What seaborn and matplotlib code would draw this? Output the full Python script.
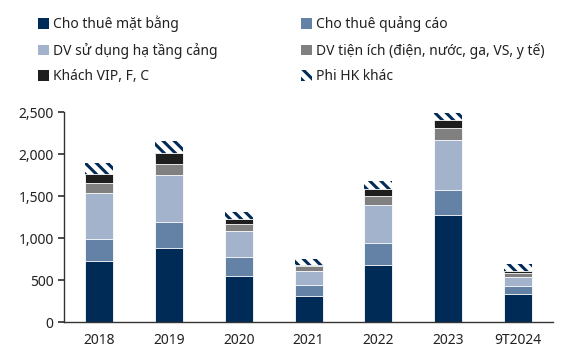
import matplotlib
matplotlib.use("Agg")
import matplotlib.pyplot as plt
import matplotlib.ticker as mticker
from matplotlib.patches import Patch
import seaborn as sns
import numpy as np
import pandas as pd

years = ["2018", "2019", "2020", "2021", "2022", "2023", "9T2024"]
series_names = ["Cho thuê mặt bằng", "Cho thuê quảng cáo", "DV sử dụng hạ tầng cảng",
                "DV tiện ích (điện, nước, ga, VS, y tế)", "Khách VIP, F, C", "Phi HK khác"]
mat_bang = [733, 881, 543, 305, 674, 1269, 340]
quang_cao = [262, 305, 234, 131, 262, 302, 84]
ha_tang = [544, 568, 313, 175, 452, 591, 112]
tien_ich = [111, 122, 80, 51, 107, 143, 43]
vip = [112, 136, 56, 20, 95, 95, 28]
phi_hk = [131, 146, 87, 68, 84, 88, 83]

colors = ["#002B57", "#6482A6", "#A3B3CC", "#808080", "#1E1E1E", "#002B57"]

sns.set_theme(style="white")
plt.rcParams["font.family"] = ["Noto Sans", "DejaVu Sans"]
plt.rcParams["hatch.linewidth"] = 2.2
plt.rcParams["hatch.color"] = "#002B57"

fig = plt.figure(figsize=(5.61, 3.49), dpi=100)
ax = fig.add_axes([0.114, 0.077, 0.872, 0.602])

layers = [mat_bang, quang_cao, ha_tang, tien_ich, vip, phi_hk]
cum = np.cumsum(np.array(layers), axis=0)

# draw from the top (total) downwards
for i in range(len(layers) - 1, -1, -1):
    df = pd.DataFrame({"year": years, "val": cum[i]})
    if i == len(layers) - 1:
        sns.barplot(data=df, x="year", y="val", ax=ax, color="white", width=0.4,
                    hatch="\\\\\\", edgecolor="#002B57", linewidth=0, saturation=1)
    else:
        sns.barplot(data=df, x="year", y="val", ax=ax, color=colors[i], width=0.4,
                    edgecolor="white", linewidth=0.6, saturation=1)

ax.set_xlim(-0.5, 6.5)
ax.set_ylim(0, 2500)
ax.set_xlabel("")
ax.set_ylabel("")
ax.yaxis.set_major_locator(mticker.MultipleLocator(500))
ax.yaxis.set_major_formatter(mticker.FuncFormatter(lambda v, p: f"{int(v):,}"))
for s in ["top", "right"]:
    ax.spines[s].set_visible(False)
for s in ["left", "bottom"]:
    ax.spines[s].set_color("#333333")
    ax.spines[s].set_linewidth(1.0)

ax.tick_params(axis="x", which="major", length=0, labelsize=10, labelcolor="#222222", pad=8)
ax.set_xticks(np.arange(-0.5, 7, 1), minor=True)
ax.tick_params(axis="x", which="minor", direction="in", length=5, color="#333333", width=1)
ax.tick_params(axis="y", which="major", direction="out", length=4, color="#333333",
               labelsize=10, labelcolor="#222222", left=True)

handles = []
order = [0, 2, 4, 1, 3, 5]
for i in order:
    if i == 5:
        handles.append(Patch(facecolor="white", edgecolor="#002B57", hatch="\\\\\\", linewidth=0,
                             label=series_names[i]))
    else:
        handles.append(Patch(facecolor=colors[i], edgecolor="none", label=series_names[i]))
fig.legend(handles=handles, ncol=2, loc="upper left", bbox_to_anchor=(0.045, 0.99),
           frameon=False, fontsize=10, handlelength=0.8, handleheight=0.8, handletextpad=0.3,
           columnspacing=6.0, labelspacing=0.75, labelcolor="#222222")

fig.savefig("out.png", dpi=100)
